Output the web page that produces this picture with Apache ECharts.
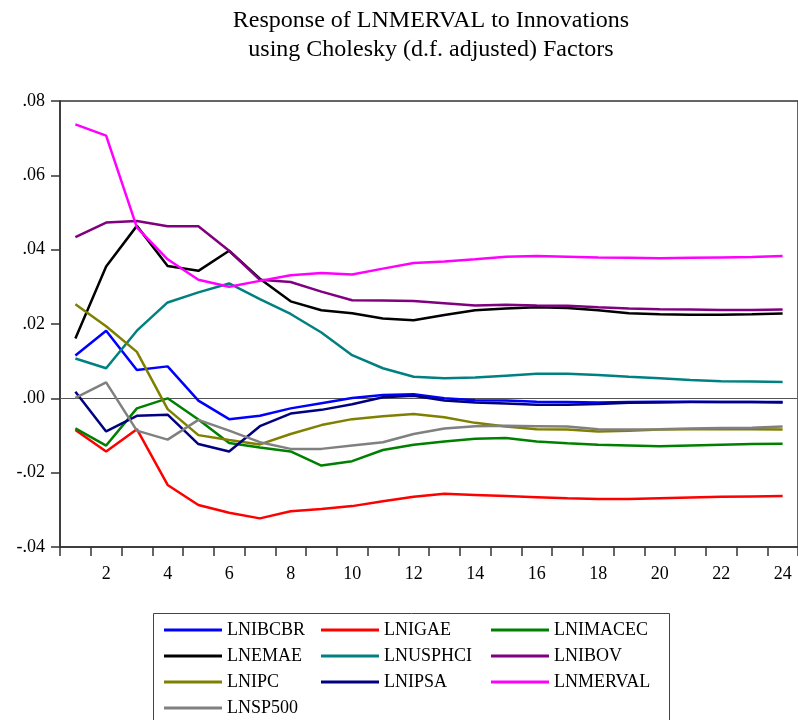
<!DOCTYPE html>
<html>
<head>
<meta charset="utf-8">
<title>Impulse responses of LNMERVAL</title>
<script src="https://cdn.jsdelivr.net/npm/echarts@6/dist/echarts.min.js"></script>
<style>
  html, body { margin: 0; padding: 0; background: #ffffff; }
  #chart { width: 798px; height: 720px; }
</style>
</head>
<body>
<div id="chart"></div>
<script>
// Forecast horizon (periods after the shock)
const periods = Array.from({ length: 24 }, (_, i) => String(i + 1));

// Y-axis tick labels, bottom to top
const yTickLabels = ['-.04', '-.02', '.00', '.02', '.04', '.06', '.08'];

// Response of LNMERVAL to a one s.d. innovation in each variable
const LNIBCBR  = [0.0115, 0.0182, 0.0076, 0.0086, -0.0006, -0.0056, -0.0047, -0.0027, -0.0013, 0.0001, 0.0009, 0.0011, 0.0000, -0.0005, -0.0006, -0.0009, -0.0010, -0.0011, -0.0010, -0.0009, -0.0009, -0.0010, -0.0010, -0.0010];
const LNIGAE   = [-0.0085, -0.0143, -0.0083, -0.0233, -0.0287, -0.0308, -0.0323, -0.0304, -0.0298, -0.0290, -0.0277, -0.0265, -0.0257, -0.0260, -0.0263, -0.0266, -0.0269, -0.0271, -0.0271, -0.0269, -0.0267, -0.0265, -0.0264, -0.0263];
const LNIMACEC = [-0.0081, -0.0127, -0.0027, 0.0000, -0.0057, -0.0120, -0.0132, -0.0143, -0.0181, -0.0169, -0.0139, -0.0125, -0.0116, -0.0109, -0.0107, -0.0116, -0.0121, -0.0125, -0.0127, -0.0129, -0.0127, -0.0125, -0.0123, -0.0122];
const LNEMAE   = [0.0161, 0.0355, 0.0464, 0.0356, 0.0343, 0.0397, 0.0322, 0.0261, 0.0237, 0.0229, 0.0215, 0.0210, 0.0224, 0.0237, 0.0242, 0.0245, 0.0243, 0.0237, 0.0229, 0.0226, 0.0225, 0.0225, 0.0226, 0.0228];
const LNUSPHCI = [0.0107, 0.0081, 0.0182, 0.0258, 0.0285, 0.0309, 0.0267, 0.0227, 0.0177, 0.0116, 0.0081, 0.0058, 0.0054, 0.0056, 0.0061, 0.0066, 0.0066, 0.0063, 0.0058, 0.0054, 0.0049, 0.0046, 0.0045, 0.0044];
const LNIBOV   = [0.0434, 0.0473, 0.0477, 0.0463, 0.0463, 0.0397, 0.0319, 0.0313, 0.0287, 0.0264, 0.0263, 0.0262, 0.0256, 0.0250, 0.0252, 0.0250, 0.0249, 0.0245, 0.0242, 0.0240, 0.0239, 0.0238, 0.0238, 0.0239];
const LNIPC    = [0.0253, 0.0194, 0.0125, -0.0029, -0.0099, -0.0112, -0.0124, -0.0096, -0.0072, -0.0056, -0.0048, -0.0042, -0.0051, -0.0066, -0.0076, -0.0083, -0.0084, -0.0089, -0.0087, -0.0084, -0.0083, -0.0083, -0.0083, -0.0084];
const LNIPSA   = [0.0018, -0.0089, -0.0047, -0.0044, -0.0123, -0.0143, -0.0075, -0.0041, -0.0031, -0.0016, 0.0003, 0.0007, -0.0006, -0.0011, -0.0014, -0.0017, -0.0017, -0.0015, -0.0012, -0.0011, -0.0010, -0.0010, -0.0010, -0.0011];
const LNMERVAL = [0.0737, 0.0707, 0.0460, 0.0374, 0.0319, 0.0300, 0.0316, 0.0331, 0.0337, 0.0333, 0.0349, 0.0364, 0.0368, 0.0374, 0.0381, 0.0383, 0.0381, 0.0379, 0.0378, 0.0377, 0.0378, 0.0379, 0.0380, 0.0383];
const LNSP500  = [0.0001, 0.0043, -0.0087, -0.0111, -0.0058, -0.0087, -0.0118, -0.0136, -0.0136, -0.0127, -0.0118, -0.0096, -0.0081, -0.0075, -0.0074, -0.0075, -0.0076, -0.0083, -0.0084, -0.0083, -0.0081, -0.0080, -0.0079, -0.0076];

const seriesDefs = [
  { name: 'LNIBCBR',  data: LNIBCBR,  color: '#0000ff' },
  { name: 'LNIGAE',   data: LNIGAE,   color: '#ff0000' },
  { name: 'LNIMACEC', data: LNIMACEC, color: '#008000' },
  { name: 'LNEMAE',   data: LNEMAE,   color: '#000000' },
  { name: 'LNUSPHCI', data: LNUSPHCI, color: '#008080' },
  { name: 'LNIBOV',   data: LNIBOV,   color: '#800080' },
  { name: 'LNIPC',    data: LNIPC,    color: '#808000' },
  { name: 'LNIPSA',   data: LNIPSA,   color: '#000080' },
  { name: 'LNMERVAL', data: LNMERVAL, color: '#ff00ff' },
  { name: 'LNSP500',  data: LNSP500,  color: '#808080' }
];

const legendColumns = [
  ['LNIBCBR', 'LNEMAE', 'LNIPC', 'LNSP500'],
  ['LNIGAE', 'LNUSPHCI', 'LNIPSA'],
  ['LNIMACEC', 'LNIBOV', 'LNMERVAL']
];

const FONT = "'Liberation Serif', 'Times New Roman', serif";

const chart = echarts.init(document.getElementById('chart'), null, { renderer: 'canvas' });

const series = seriesDefs.map((s, i) => {
  const item = {
    name: s.name,
    type: 'line',
    data: s.data,
    symbol: 'none',
    showSymbol: false,
    color: s.color,
    lineStyle: { color: s.color, width: 2.5 },
    z: 2
  };
  if (i === 0) {
    // zero reference line across the plot
    item.markLine = {
      silent: true,
      symbol: ['none', 'none'],
      label: { show: false },
      lineStyle: { color: '#555555', width: 1, type: 'solid' },
      data: [{ yAxis: 0 }],
      z: 1
    };
  }
  return item;
});

const legendLefts = [164, 321, 491];
const legends = legendColumns.map((names, c) => ({
  orient: 'vertical',
  left: legendLefts[c],
  top: 620,
  padding: 0,
  itemGap: 6,
  itemWidth: 58,
  itemHeight: 10,
  icon: 'path://M0,0 L58,0 L58,3 L0,3 Z',
  data: names,
  selectedMode: false,
  textStyle: { fontFamily: FONT, fontSize: 18, color: '#000', lineHeight: 20 }
}));

chart.setOption({
  animation: false,
  backgroundColor: '#ffffff',
  title: {
    text: 'Response of LNMERVAL to Innovations\nusing Cholesky (d.f. adjusted) Factors',
    left: 426,
    top: 1,
    textAlign: 'center',
    textStyle: {
      fontFamily: FONT,
      fontSize: 24,
      fontWeight: 'normal',
      color: '#000',
      lineHeight: 29
    }
  },
  legend: legends,
  grid: {
    left: 60,
    top: 101,
    width: 742,
    height: 446,
    show: true,
    borderColor: '#333333',
    borderWidth: 1.5,
    containLabel: false
  },
  xAxis: {
    type: 'category',
    data: periods,
    boundaryGap: true,
    axisLine: { onZero: false, lineStyle: { color: '#333333', width: 1.5 } },
    axisTick: { show: true, interval: 0, inside: false, length: 9, lineStyle: { color: '#333333', width: 1.5 } },
    axisLabel: {
      interval: (idx) => idx % 2 === 1,
      margin: 18,
      fontFamily: FONT,
      fontSize: 18,
      color: '#000'
    },
    splitLine: { show: false }
  },
  yAxis: {
    type: 'value',
    min: -0.04,
    max: 0.08,
    interval: 0.02,
    axisLine: { show: true, lineStyle: { color: '#333333', width: 1.5 } },
    axisTick: { show: true, inside: false, length: 9, lineStyle: { color: '#333333', width: 1.5 } },
    axisLabel: {
      margin: 15,
      fontFamily: FONT,
      fontSize: 18,
      color: '#000',
      formatter: (v, idx) => yTickLabels[idx]
    },
    splitLine: { show: false }
  },
  graphic: [{
    type: 'rect',
    shape: { x: 153.5, y: 613.5, width: 516, height: 120 },
    style: { fill: 'none', stroke: '#444444', lineWidth: 1 },
    silent: true,
    z: 0
  }],
  series: series
});
</script>
</body>
</html>
